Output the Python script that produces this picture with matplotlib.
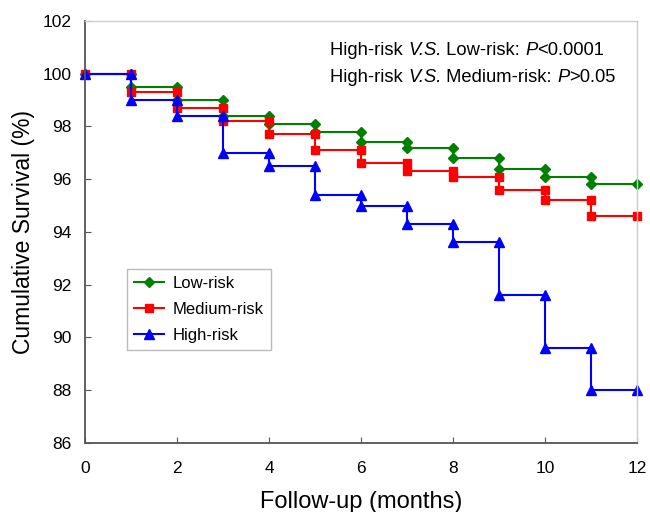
import matplotlib.pyplot as plt
from matplotlib.transforms import offset_copy

plt.rcParams['font.family'] = ['Liberation Sans', 'DejaVu Sans']

# survival (%) on each interval [k, k+1), k = 0..11
months = list(range(13))
low_risk = [100, 99.5, 99.0, 98.4, 98.1, 97.8, 97.4, 97.2, 96.8, 96.4, 96.1, 95.8]
medium_risk = [100, 99.3, 98.7, 98.2, 97.7, 97.1, 96.6, 96.3, 96.1, 95.6, 95.2, 94.6]
high_risk = [100, 99.0, 98.4, 97.0, 96.5, 95.4, 95.0, 94.3, 93.6, 91.6, 89.6, 88.0]


def km_points(vals):
    # marker before and after every drop, like the original KM plot
    xs, ys = [months[0]], [vals[0]]
    for k in range(1, len(vals)):
        xs += [months[k], months[k]]
        ys += [vals[k - 1], vals[k]]
    xs.append(months[-1])
    ys.append(vals[-1])
    return xs, ys


fig = plt.figure(figsize=(6.5, 5.12), dpi=100)
ax = fig.add_axes([0.131, 0.135, 0.849, 0.824])

series = [
    ('Low-risk', low_risk, '#008000', 'D', 5),
    ('Medium-risk', medium_risk, '#ff0000', 's', 6),
    ('High-risk', high_risk, '#0000ff', '^', 7),
]
for name, vals, col, mk, ms in series:
    xs, ys = km_points(vals)
    ax.plot(xs, ys, color=col, lw=1.5, marker=mk, markersize=ms,
            markerfacecolor=col, markeredgecolor=col, label=name, clip_on=False)

ax.set_xlim(0, 12)
ax.set_ylim(86, 102)
ax.set_xticks(range(0, 13, 2))
ax.set_yticks(range(86, 103, 2))
ax.tick_params(axis='both', direction='in', length=4, labelsize=12.5, colors='#555555',
               labelcolor='black')
ax.tick_params(axis='x', pad=13)
ax.tick_params(axis='y', pad=10)
for s in ['left', 'bottom']:
    ax.spines[s].set_color('#555555')
    ax.spines[s].set_linewidth(1.3)
for s in ['top', 'right']:
    ax.spines[s].set_color('#cccccc')
    ax.spines[s].set_linewidth(1.0)

ax.set_xlabel('Follow-up (months)', fontsize=17, labelpad=11)
ax.set_ylabel('Cumulative Survival (%)', fontsize=16.5, labelpad=5)

leg = ax.legend(loc='lower left', bbox_to_anchor=(0.06, 0.2), fontsize=12,
                fancybox=False, framealpha=1, handlelength=1.8,
                borderpad=0.45, labelspacing=0.65, handletextpad=0.5)
leg.get_frame().set_edgecolor('#bbbbbb')

# p-value lines, mixed upright / italic pieces
renderer = fig.canvas.get_renderer()
lines = [
    [('High-risk ', 'normal'), ('V.S.', 'italic'), (' Low-risk: ', 'normal'),
     ('P', 'italic'), ('<0.0001', 'normal')],
    [('High-risk ', 'normal'), ('V.S.', 'italic'), (' Medium-risk: ', 'normal'),
     ('P', 'italic'), ('>0.05', 'normal')],
]
for yy, parts in zip([0.93, 0.866], lines):
    dx = 0
    for txt, st in parts:
        tr = offset_copy(ax.transAxes, fig=fig, x=dx, y=0, units='dots')
        t = ax.text(0.444, yy, txt, transform=tr, fontsize=13.2, style=st,
                    ha='left', va='center')
        dx += t.get_window_extent(renderer).width

fig.savefig('out.png', dpi=100)
